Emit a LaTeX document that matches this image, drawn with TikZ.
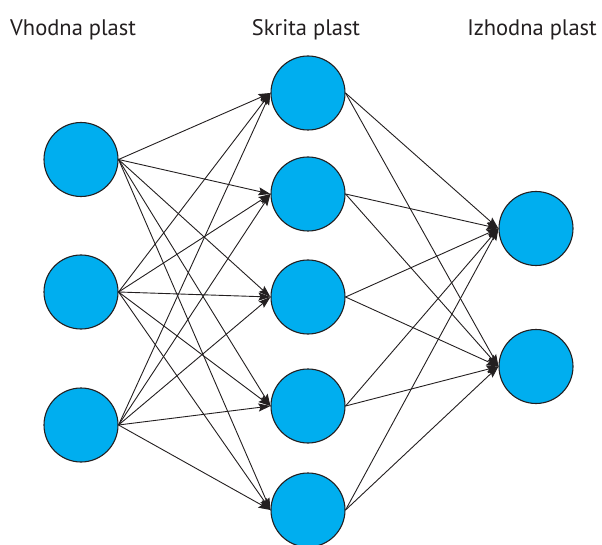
\documentclass[tikz,border=0pt]{standalone}
\usepackage{fontspec}
\setmainfont{PT Sans}
\usetikzlibrary{arrows.meta}
\definecolor{neuron}{HTML}{00AEEF}
\definecolor{ink}{HTML}{231F20}
\begin{document}
\begin{tikzpicture}[x=1pt,y=-1pt,
  neuronnode/.style={circle,draw=ink,line width=1.1pt,fill=neuron,minimum size=74pt,inner sep=0pt},
  conn/.style={draw=ink,line width=0.9pt,-{Stealth[length=12pt,width=8pt,inset=2pt]}},
  layerlabel/.style={font=\fontsize{22.5}{26}\selectfont,text=ink,inner sep=0pt,anchor=base}]
\useasboundingbox (0,0) rectangle (602,545);
\node[layerlabel,anchor=base west] (l1) at (10,36) {Vhodna plast};
\node[layerlabel] (l2) at (306,36) {Skrita plast};
\node[layerlabel,anchor=base east] (l3) at (597,36) {Izhodna plast};
\node[neuronnode] (i1) at (81,159.5) {};
\node[neuronnode] (i2) at (81,292) {};
\node[neuronnode] (i3) at (81,425) {};
\node[neuronnode] (h1) at (308,93) {};
\node[neuronnode] (h2) at (308,194) {};
\node[neuronnode] (h3) at (308,297) {};
\node[neuronnode] (h4) at (308,406) {};
\node[neuronnode] (h5) at (308,510) {};
\node[neuronnode] (o1) at (536,228.5) {};
\node[neuronnode] (o2) at (536,366.5) {};
\foreach \i in {1,2,3}{
  \foreach \h in {1,...,5}{
    \draw[conn] (i\i.east) -- (h\h.west);
  }
}
\foreach \h in {1,...,5}{
  \foreach \o in {1,2}{
    \draw[conn] (h\h.east) -- (o\o.west);
  }
}
\end{tikzpicture}
\end{document}
